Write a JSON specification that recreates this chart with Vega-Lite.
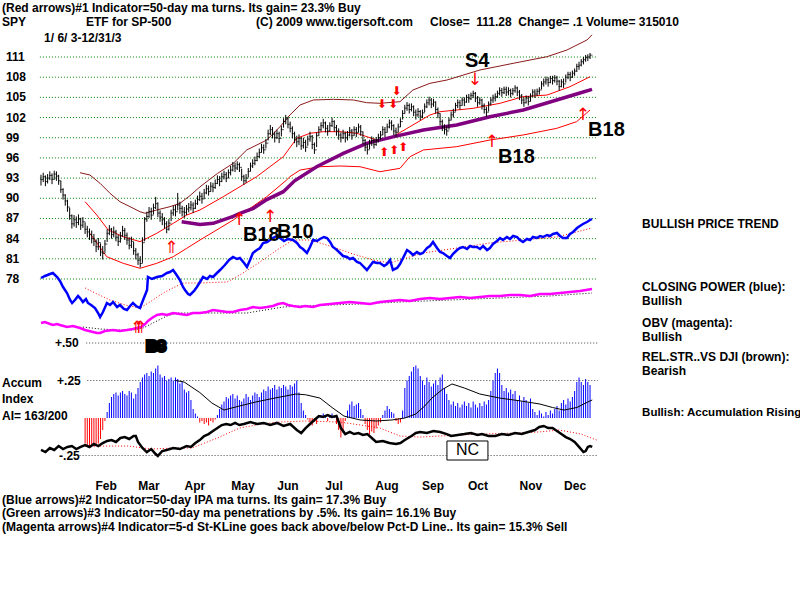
{
"$schema":"https://vega.github.io/schema/vega-lite/v6.json",
"width":800,"height":600,"padding":0,"autosize":{"type":"none"},
"background":"white",
"config":{"view":{"stroke":null}},
"datasets":{
"px":[
{"t":0,"h":93.5,"l":91.9,"c":92.8},{"t":1,"h":93.8,"l":92.4,"c":93.2},{"t":2,"h":93.4,"l":91.8,"c":92.5},{"t":3,"h":93.6,"l":92.2,"c":93.0},{"t":4,"h":94.0,"l":92.7,"c":93.4},{"t":5,"h":93.7,"l":92.1,"c":92.8},{"t":6,"h":94.1,"l":92.8,"c":93.6},{"t":7,"h":94.0,"l":92.6,"c":93.3},{"t":8,"h":93.5,"l":92.0,"c":92.6},{"t":9,"h":92.6,"l":90.8,"c":91.3},
{"t":10,"h":91.5,"l":89.8,"c":90.5},{"t":11,"h":90.6,"l":88.9,"c":89.6},{"t":12,"h":89.8,"l":88.0,"c":88.7},{"t":13,"h":88.6,"l":86.8,"c":87.4},{"t":14,"h":87.6,"l":85.5,"c":86.2},{"t":15,"h":87.5,"l":85.8,"c":86.8},{"t":16,"h":87.3,"l":85.6,"c":86.4},{"t":17,"h":87.6,"l":86.0,"c":86.9},{"t":18,"h":87.1,"l":85.3,"c":86.0},{"t":19,"h":87.2,"l":85.6,"c":86.5},
{"t":20,"h":86.4,"l":84.7,"c":85.4,"a":-0.17},{"t":21,"h":85.9,"l":84.2,"c":85.0,"a":-0.18},{"t":22,"h":85.5,"l":83.8,"c":84.6,"a":-0.19},{"t":23,"h":85.2,"l":83.3,"c":84.0,"a":-0.18},{"t":24,"h":84.7,"l":82.9,"c":83.6,"a":-0.19},{"t":25,"h":83.9,"l":82.0,"c":82.8,"a":-0.18},{"t":26,"h":84.1,"l":82.3,"c":83.4,"a":-0.17},{"t":27,"h":83.3,"l":81.4,"c":82.0,"a":-0.14},{"t":28,"h":82.9,"l":80.9,"c":81.8,"a":-0.08},{"t":29,"h":83.8,"l":81.9,"c":83.2,"a":-0.02},
{"t":30,"h":85.4,"l":83.5,"c":84.8,"a":0.04},{"t":31,"h":86.0,"l":84.5,"c":85.4,"a":0.10},{"t":32,"h":85.6,"l":84.0,"c":84.6,"a":0.14},{"t":33,"h":85.8,"l":84.2,"c":85.0,"a":0.16},{"t":34,"h":85.3,"l":83.6,"c":84.2,"a":0.17},{"t":35,"h":84.6,"l":82.9,"c":83.6,"a":0.15},{"t":36,"h":85.0,"l":83.4,"c":84.4,"a":0.17},{"t":37,"h":85.9,"l":84.3,"c":85.2,"a":0.18},{"t":38,"h":85.6,"l":83.8,"c":84.5,"a":0.16},{"t":39,"h":84.9,"l":83.1,"c":83.8,"a":0.15},
{"t":40,"h":84.2,"l":82.4,"c":83.0,"a":0.18},{"t":41,"h":84.3,"l":82.6,"c":83.6,"a":0.17},{"t":42,"h":83.5,"l":81.6,"c":82.2,"a":0.13},{"t":43,"h":82.6,"l":80.9,"c":81.6,"a":0.16},{"t":44,"h":81.9,"l":80.1,"c":80.8,"a":0.20},{"t":45,"h":81.4,"l":79.7,"c":80.3,"a":0.24},{"t":46,"h":84.2,"l":80.4,"c":83.4,"a":0.27},{"t":47,"h":87.2,"l":83.6,"c":86.9,"a":0.29},{"t":48,"h":88.0,"l":86.5,"c":87.3,"a":0.30},{"t":49,"h":88.7,"l":87.1,"c":88.0,"a":0.28},
{"t":50,"h":88.6,"l":86.8,"c":87.5,"a":0.31},{"t":51,"h":89.2,"l":87.6,"c":88.6,"a":0.30},{"t":52,"h":90.2,"l":88.4,"c":89.2,"a":0.33},{"t":53,"h":89.4,"l":87.2,"c":87.8,"a":0.35},{"t":54,"h":88.2,"l":86.5,"c":87.2,"a":0.29},{"t":55,"h":87.8,"l":86.0,"c":86.8,"a":0.27},{"t":56,"h":87.2,"l":85.5,"c":86.2,"a":0.28},{"t":57,"h":86.6,"l":84.8,"c":85.4,"a":0.25},{"t":58,"h":86.9,"l":85.2,"c":86.3,"a":0.26},{"t":59,"h":88.3,"l":86.6,"c":87.8,"a":0.27},
{"t":60,"h":88.9,"l":87.4,"c":88.3,"a":0.25},{"t":61,"h":89.0,"l":87.3,"c":88.0,"a":0.27},{"t":62,"h":90.8,"l":88.2,"c":89.0,"a":0.26},{"t":63,"h":89.5,"l":87.7,"c":88.5,"a":0.23},{"t":64,"h":88.9,"l":87.3,"c":88.0,"a":0.24},{"t":65,"h":88.7,"l":87.1,"c":87.9,"a":0.19},{"t":66,"h":89.0,"l":87.5,"c":88.4,"a":0.17},{"t":67,"h":89.3,"l":87.9,"c":88.6,"a":0.18},{"t":68,"h":89.6,"l":88.2,"c":89.0,"a":0.12},{"t":69,"h":89.4,"l":87.8,"c":88.5,"a":0.06},
{"t":70,"h":89.8,"l":88.4,"c":89.2,"a":0.03},{"t":71,"h":90.4,"l":89.0,"c":89.8,"a":0.01},{"t":72,"h":91.0,"l":89.6,"c":90.3,"a":-0.03},{"t":73,"h":90.8,"l":89.2,"c":89.9,"a":-0.02},{"t":74,"h":91.4,"l":89.9,"c":90.8,"a":-0.04},{"t":75,"h":92.0,"l":90.6,"c":91.4,"a":-0.03},{"t":76,"h":91.9,"l":90.4,"c":91.0,"a":-0.05},{"t":77,"h":92.4,"l":91.0,"c":91.8,"a":-0.02},{"t":78,"h":92.3,"l":90.9,"c":91.6,"a":-0.03},{"t":79,"h":92.8,"l":91.4,"c":92.2,"a":-0.01},
{"t":80,"h":93.4,"l":92.1,"c":92.8,"a":0.02},{"t":81,"h":93.3,"l":91.8,"c":92.5,"a":0.06},{"t":82,"h":93.8,"l":92.4,"c":93.2,"a":0.09},{"t":83,"h":94.1,"l":92.8,"c":93.5,"a":0.11},{"t":84,"h":93.9,"l":92.4,"c":93.0,"a":0.14},{"t":85,"h":94.3,"l":93.0,"c":93.8,"a":0.13},{"t":86,"h":94.8,"l":93.4,"c":94.2,"a":0.15},{"t":87,"h":95.4,"l":94.0,"c":94.8,"a":0.16},{"t":88,"h":95.3,"l":93.9,"c":94.5,"a":0.13},{"t":89,"h":95.5,"l":94.2,"c":95.0,"a":0.15},
{"t":90,"h":95.3,"l":93.9,"c":94.6,"a":0.12},{"t":91,"h":94.4,"l":92.6,"c":93.2,"a":0.11},{"t":92,"h":93.5,"l":92.0,"c":92.6,"a":0.13},{"t":93,"h":93.6,"l":92.3,"c":93.0,"a":0.16},{"t":94,"h":94.5,"l":93.1,"c":94.0,"a":0.14},{"t":95,"h":95.3,"l":94.0,"c":94.8,"a":0.12},{"t":96,"h":95.8,"l":94.5,"c":95.2,"a":0.15},{"t":97,"h":96.2,"l":94.9,"c":95.6,"a":0.17},{"t":98,"h":96.8,"l":95.5,"c":96.2,"a":0.16},{"t":99,"h":97.4,"l":96.0,"c":96.8,"a":0.14},
{"t":100,"h":98.1,"l":96.8,"c":97.5,"a":0.17},{"t":101,"h":98.0,"l":96.6,"c":97.2,"a":0.19},{"t":102,"h":98.8,"l":97.4,"c":98.2,"a":0.18},{"t":103,"h":100.2,"l":98.6,"c":99.6,"a":0.21},{"t":104,"h":100.9,"l":99.4,"c":100.2,"a":0.19},{"t":105,"h":100.6,"l":98.9,"c":99.5,"a":0.20},{"t":106,"h":99.9,"l":98.3,"c":99.0,"a":0.22},{"t":107,"h":100.2,"l":98.8,"c":99.6,"a":0.19},{"t":108,"h":99.9,"l":98.2,"c":98.9,"a":0.21},{"t":109,"h":100.8,"l":99.2,"c":100.2,"a":0.20},
{"t":110,"h":101.9,"l":100.5,"c":101.4,"a":0.22},{"t":111,"h":102.4,"l":101.0,"c":101.8,"a":0.21},{"t":112,"h":102.1,"l":100.4,"c":101.0,"a":0.19},{"t":113,"h":101.4,"l":99.8,"c":100.4,"a":0.22},{"t":114,"h":100.7,"l":98.9,"c":99.6,"a":0.21},{"t":115,"h":99.9,"l":98.2,"c":98.8,"a":0.23},{"t":116,"h":99.3,"l":97.6,"c":98.4,"a":0.25},{"t":117,"h":99.5,"l":97.9,"c":98.9,"a":0.17},{"t":118,"h":99.1,"l":97.2,"c":97.8,"a":0.10},{"t":119,"h":99.0,"l":97.4,"c":98.3,"a":0.05},
{"t":120,"h":98.7,"l":96.9,"c":97.6,"a":0.02},{"t":121,"h":99.3,"l":97.8,"c":98.8,"a":-0.01},{"t":122,"h":99.9,"l":98.4,"c":99.2,"a":-0.03},{"t":123,"h":99.4,"l":97.3,"c":98.0,"a":-0.05},{"t":124,"h":98.3,"l":96.6,"c":97.2,"a":-0.02},{"t":125,"h":99.8,"l":97.6,"c":99.3,"a":-0.04},{"t":126,"h":100.7,"l":99.3,"c":100.2,"a":0.01},{"t":127,"h":101.3,"l":99.9,"c":100.8,"a":0.02},{"t":128,"h":101.8,"l":100.4,"c":101.2,"a":0.03},{"t":129,"h":101.4,"l":99.8,"c":100.4,"a":0.01},
{"t":130,"h":100.9,"l":99.3,"c":100.0,"a":-0.02},{"t":131,"h":101.3,"l":99.9,"c":100.8,"a":0.02},{"t":132,"h":102.0,"l":100.6,"c":101.4,"a":0.03},{"t":133,"h":101.6,"l":99.9,"c":100.5,"a":0.01},{"t":134,"h":100.9,"l":99.3,"c":100.0,"a":-0.04},{"t":135,"h":100.4,"l":98.7,"c":99.4,"a":-0.08},{"t":136,"h":99.8,"l":98.3,"c":99.0,"a":-0.13},{"t":137,"h":100.2,"l":98.8,"c":99.6,"a":-0.10},{"t":138,"h":99.9,"l":98.3,"c":99.0,"a":-0.02},{"t":139,"h":100.0,"l":98.6,"c":99.4,"a":0.05},
{"t":140,"h":100.6,"l":99.2,"c":100.0,"a":0.09},{"t":141,"h":100.3,"l":98.7,"c":99.3,"a":0.11},{"t":142,"h":100.7,"l":99.3,"c":100.2,"a":0.08},{"t":143,"h":100.6,"l":99.1,"c":99.8,"a":0.09},{"t":144,"h":101.1,"l":99.8,"c":100.6,"a":0.10},{"t":145,"h":100.9,"l":99.3,"c":99.9,"a":0.06},{"t":146,"h":99.9,"l":98.0,"c":98.6,"a":0.02},{"t":147,"h":98.8,"l":97.0,"c":97.6,"a":-0.04},{"t":148,"h":98.1,"l":96.5,"c":97.2,"a":-0.08},{"t":149,"h":98.7,"l":97.3,"c":98.2,"a":-0.11},
{"t":150,"h":99.2,"l":97.8,"c":98.6,"a":-0.09},{"t":151,"h":98.9,"l":97.4,"c":98.0,"a":-0.10},{"t":152,"h":99.1,"l":97.8,"c":98.6,"a":-0.07},{"t":153,"h":99.6,"l":98.3,"c":99.0,"a":-0.05},{"t":154,"h":100.0,"l":98.7,"c":99.4,"a":-0.03},{"t":155,"h":100.7,"l":99.4,"c":100.2,"a":0.02},{"t":156,"h":100.6,"l":99.1,"c":99.8,"a":0.05},{"t":157,"h":101.1,"l":99.8,"c":100.6,"a":0.08},{"t":158,"h":101.7,"l":100.4,"c":101.2,"a":0.06},{"t":159,"h":101.6,"l":100.1,"c":100.8,"a":0.04},
{"t":160,"h":101.0,"l":99.4,"c":100.0,"a":0.03},{"t":161,"h":100.5,"l":99.1,"c":99.8,"a":-0.02},{"t":162,"h":101.1,"l":99.8,"c":100.6,"a":-0.04},{"t":163,"h":101.9,"l":100.6,"c":101.4,"a":-0.03},{"t":164,"h":103.1,"l":101.7,"c":102.6,"a":0.05},{"t":165,"h":103.9,"l":102.6,"c":103.4,"a":0.20},{"t":166,"h":104.3,"l":103.0,"c":103.8,"a":0.25},{"t":167,"h":104.1,"l":102.6,"c":103.2,"a":0.28},{"t":168,"h":104.1,"l":102.9,"c":103.6,"a":0.31},{"t":169,"h":103.8,"l":102.2,"c":102.8,"a":0.34},
{"t":170,"h":103.2,"l":101.7,"c":102.4,"a":0.35},{"t":171,"h":103.4,"l":102.1,"c":102.9,"a":0.33},{"t":172,"h":103.1,"l":101.6,"c":102.2,"a":0.28},{"t":173,"h":103.2,"l":101.9,"c":102.7,"a":0.25},{"t":174,"h":104.1,"l":102.8,"c":103.6,"a":0.22},{"t":175,"h":104.7,"l":103.4,"c":104.2,"a":0.27},{"t":176,"h":105.1,"l":103.8,"c":104.6,"a":0.24},{"t":177,"h":104.9,"l":103.4,"c":104.0,"a":0.21},{"t":178,"h":104.8,"l":103.6,"c":104.3,"a":0.23},{"t":179,"h":104.4,"l":102.6,"c":103.2,"a":0.25},
{"t":180,"h":103.5,"l":101.9,"c":102.6,"a":0.22},{"t":181,"h":102.6,"l":100.8,"c":101.4,"a":0.27},{"t":182,"h":101.7,"l":100.0,"c":100.6,"a":0.29},{"t":183,"h":101.0,"l":99.5,"c":100.2,"a":0.20},{"t":184,"h":100.8,"l":99.3,"c":100.0,"a":0.16},{"t":185,"h":102.0,"l":100.2,"c":101.6,"a":0.12},{"t":186,"h":102.9,"l":101.6,"c":102.4,"a":0.09},{"t":187,"h":103.3,"l":102.0,"c":102.8,"a":0.11},{"t":188,"h":104.2,"l":102.9,"c":103.8,"a":0.08},{"t":189,"h":104.7,"l":103.4,"c":104.2,"a":0.10},
{"t":190,"h":104.6,"l":103.2,"c":103.8,"a":0.07},{"t":191,"h":105.0,"l":103.8,"c":104.6,"a":0.09},{"t":192,"h":105.0,"l":103.7,"c":104.3,"a":0.11},{"t":193,"h":105.4,"l":104.2,"c":105.0,"a":0.08},{"t":194,"h":105.5,"l":104.2,"c":104.8,"a":0.10},{"t":195,"h":105.7,"l":104.6,"c":105.3,"a":0.07},{"t":196,"h":106.0,"l":104.9,"c":105.6,"a":0.11},{"t":197,"h":105.8,"l":104.3,"c":104.9,"a":0.09},{"t":198,"h":105.2,"l":103.6,"c":104.2,"a":0.07},{"t":199,"h":105.0,"l":103.9,"c":104.6,"a":0.10},
{"t":200,"h":104.8,"l":103.2,"c":103.8,"a":0.08},{"t":201,"h":104.1,"l":102.6,"c":103.2,"a":0.11},{"t":202,"h":103.6,"l":102.1,"c":102.8,"a":0.09},{"t":203,"h":104.4,"l":102.9,"c":104.0,"a":0.12},{"t":204,"h":105.0,"l":103.8,"c":104.6,"a":0.18},{"t":205,"h":105.4,"l":104.2,"c":104.9,"a":0.25},{"t":206,"h":105.6,"l":104.4,"c":105.1,"a":0.30},{"t":207,"h":106.0,"l":104.9,"c":105.6,"a":0.33},{"t":208,"h":106.5,"l":105.3,"c":106.0,"a":0.30},{"t":209,"h":106.4,"l":105.1,"c":105.7,"a":0.22},
{"t":210,"h":106.6,"l":105.5,"c":106.2,"a":0.18},{"t":211,"h":106.6,"l":105.2,"c":105.8,"a":0.20},{"t":212,"h":106.5,"l":105.3,"c":106.0,"a":0.17},{"t":213,"h":106.3,"l":105.0,"c":105.6,"a":0.19},{"t":214,"h":106.4,"l":105.3,"c":106.0,"a":0.16},{"t":215,"h":106.8,"l":105.7,"c":106.4,"a":0.18},{"t":216,"h":106.6,"l":105.2,"c":105.8,"a":0.12},{"t":217,"h":106.1,"l":104.6,"c":105.2,"a":0.15},{"t":218,"h":105.5,"l":104.0,"c":104.6,"a":0.11},{"t":219,"h":105.0,"l":103.6,"c":104.2,"a":0.14},
{"t":220,"h":105.3,"l":104.1,"c":104.9,"a":0.12},{"t":221,"h":105.2,"l":103.8,"c":104.4,"a":0.10},{"t":222,"h":105.6,"l":104.4,"c":105.2,"a":0.13},{"t":223,"h":106.2,"l":105.1,"c":105.8,"a":0.06},{"t":224,"h":106.2,"l":104.9,"c":105.5,"a":0.04},{"t":225,"h":106.3,"l":105.2,"c":105.9,"a":0.02},{"t":226,"h":106.5,"l":105.4,"c":106.1,"a":0.05},{"t":227,"h":107.4,"l":106.2,"c":107.0,"a":0.03},{"t":228,"h":107.8,"l":106.6,"c":107.3,"a":0.01},{"t":229,"h":108.1,"l":106.9,"c":107.6,"a":0.04},
{"t":230,"h":108.0,"l":106.6,"c":107.2,"a":0.02},{"t":231,"h":108.2,"l":107.1,"c":107.8,"a":0.05},{"t":232,"h":108.2,"l":106.9,"c":107.5,"a":0.03},{"t":233,"h":108.3,"l":107.2,"c":107.9,"a":0.06},{"t":234,"h":108.2,"l":106.8,"c":107.4,"a":0.08},{"t":235,"h":107.6,"l":106.0,"c":106.6,"a":0.05},{"t":236,"h":107.7,"l":106.5,"c":107.3,"a":0.10},{"t":237,"h":107.8,"l":106.4,"c":107.0,"a":0.12},{"t":238,"h":108.4,"l":107.2,"c":108.0,"a":0.09},{"t":239,"h":108.8,"l":107.7,"c":108.4,"a":0.13},
{"t":240,"h":108.8,"l":107.4,"c":108.0,"a":0.11},{"t":241,"h":109.0,"l":107.9,"c":108.6,"a":0.14},{"t":242,"h":109.3,"l":108.2,"c":108.9,"a":0.18},{"t":243,"h":110.0,"l":108.8,"c":109.6,"a":0.24},{"t":244,"h":110.3,"l":109.1,"c":109.8,"a":0.27},{"t":245,"h":110.7,"l":109.6,"c":110.3,"a":0.24},{"t":246,"h":111.0,"l":109.9,"c":110.6,"a":0.22},{"t":247,"h":111.3,"l":110.3,"c":110.9,"a":0.26},{"t":248,"h":111.4,"l":110.4,"c":111.0,"a":0.24},{"t":249,"h":111.6,"l":110.7,"c":111.28,"a":0.22}
],
"grid":[{"p":78,"t":-0.5},{"p":78,"t":252.6},{"p":81,"t":-0.5},{"p":81,"t":252.6},{"p":84,"t":-0.5},{"p":84,"t":252.6},{"p":87,"t":-0.5},{"p":87,"t":252.6},{"p":90,"t":-0.5},{"p":90,"t":252.6},{"p":93,"t":-0.5},{"p":93,"t":252.6},{"p":96,"t":-0.5},{"p":96,"t":252.6},{"p":99,"t":-0.5},{"p":99,"t":252.6},{"p":102,"t":-0.5},{"p":102,"t":252.6},{"p":105,"t":-0.5},{"p":105,"t":252.6},{"p":108,"t":-0.5},{"p":108,"t":252.6},{"p":111,"t":-0.5},{"p":111,"t":252.6}],
"aigrid":[{"a":0.5,"t":20.5},{"a":0.5,"t":252.6},{"a":0.25,"t":21},{"a":0.25,"t":252.6},{"a":-0.25,"t":17.5},{"a":-0.25,"t":252.6}],
"up":[{"t":17.7,"v":93.8},{"t":22.2,"v":93.46},{"t":26.8,"v":92.22},{"t":31.3,"v":90.74},{"t":35.8,"v":89.49},{"t":40.4,"v":88.75},{"t":44.9,"v":88.0},{"t":47.2,"v":87.77},{"t":52.5,"v":88.26},{"t":58.5,"v":88.75},{"t":63,"v":89.25},{"t":67.6,"v":90.4},{"t":72.1,"v":91.7},{"t":80.1,"v":93.71},{"t":87.2,"v":95.2},{"t":93.3,"v":97.18},{"t":102.4,"v":98.66},{"t":108.4,"v":100.64},{"t":112.9,"v":102.38},{"t":117.5,"v":103.87},{"t":123.5,"v":104.61},{"t":132.6,"v":104.71},{"t":141.7,"v":104.61},{"t":147.7,"v":104.21},{"t":153.7,"v":104.12},{"t":162.8,"v":104.36},{"t":168.7,"v":106.1},{"t":176.4,"v":107.09},{"t":184.1,"v":107.58},{"t":199.1,"v":109.07},{"t":214.1,"v":110.06},{"t":229.5,"v":111.05},{"t":238.5,"v":112.04},{"t":247.6,"v":113.53},{"t":249.9,"v":114.3}],
"mid":[{"t":20,"v":89.49},{"t":25.3,"v":87.51},{"t":30.5,"v":85.28},{"t":37.3,"v":84.29},{"t":44.9,"v":83.55},{"t":52.5,"v":84.79},{"t":60,"v":86.28},{"t":66.1,"v":87.51},{"t":72.1,"v":88.26},{"t":82.7,"v":90.24},{"t":97.8,"v":93.21},{"t":109.9,"v":96.18},{"t":116,"v":98.92},{"t":122,"v":99.66},{"t":128,"v":99.9},{"t":135.6,"v":99.9},{"t":143.2,"v":99.66},{"t":152.2,"v":98.66},{"t":158.3,"v":98.9},{"t":167.3,"v":100.64},{"t":176.4,"v":102.38},{"t":181,"v":102.87},{"t":195.9,"v":103.37},{"t":208.2,"v":104.12},{"t":218.6,"v":105.1},{"t":229.5,"v":105.35},{"t":239.9,"v":106.59},{"t":249,"v":108.07}],
"lo":[{"t":22.2,"v":84.79},{"t":29.8,"v":81.32},{"t":37.3,"v":80.33},{"t":44.9,"v":79.59},{"t":52.5,"v":80.33},{"t":60,"v":81.32},{"t":66.1,"v":82.56},{"t":72.1,"v":83.8},{"t":87.2,"v":86.77},{"t":102.4,"v":90.24},{"t":111.4,"v":92.72},{"t":112.9,"v":93.21},{"t":117.5,"v":94.2},{"t":126.5,"v":94.69},{"t":135.6,"v":94.8},{"t":144.7,"v":94.69},{"t":153.7,"v":93.95},{"t":162.8,"v":94.45},{"t":167.3,"v":96.18},{"t":173.4,"v":97.18},{"t":188.5,"v":97.67},{"t":203.6,"v":98.66},{"t":218.7,"v":99.41},{"t":233.9,"v":100.4},{"t":242.9,"v":101.39},{"t":249,"v":103.12}],
"ma":[{"t":63.8,"v":86.52},{"t":72.1,"v":86.1},{"t":78.1,"v":86.28},{"t":87.2,"v":87.3},{"t":90.2,"v":87.77},{"t":96.3,"v":88.51},{"t":102.4,"v":89.8},{"t":109.9,"v":90.98},{"t":115,"v":92.6},{"t":125,"v":94.69},{"t":137.1,"v":96.68},{"t":147.7,"v":98.17},{"t":160.5,"v":99.2},{"t":173.4,"v":100.15},{"t":188.5,"v":100.89},{"t":203.6,"v":102.13},{"t":218.7,"v":103.12},{"t":233.9,"v":104.61},{"t":244.4,"v":105.65},{"t":249.9,"v":106.2}],
"cp":[{"t":0,"v":5.2},{"t":1.8,"v":5.4},{"t":4.1,"v":5.6},{"t":5.4,"v":5.7},{"t":7.3,"v":5.3},{"t":8.6,"v":4.9},{"t":10,"v":4.3},{"t":11.8,"v":3.7},{"t":13.2,"v":3.0},{"t":14.1,"v":2.7},{"t":15.4,"v":3.0},{"t":16.8,"v":3.4},{"t":17.7,"v":3.2},{"t":19,"v":2.8},{"t":20.4,"v":3.1},{"t":21.3,"v":2.7},{"t":22.7,"v":2.5},{"t":24.5,"v":2.2},{"t":25.9,"v":1.7},{"t":26.8,"v":1.3},{"t":28.1,"v":1.8},{"t":29.9,"v":2.7},{"t":31.3,"v":2.5},{"t":32.7,"v":2.8},{"t":34.5,"v":2.3},{"t":35.8,"v":2.5},{"t":37.6,"v":2.1},{"t":39,"v":2.0},{"t":40.4,"v":2.4},{"t":41.7,"v":2.7},{"t":43.1,"v":2.4},{"t":44.9,"v":2.2},{"t":46.3,"v":3.0},{"t":48.1,"v":4.0},{"t":48.5,"v":5.3},{"t":50.3,"v":5.1},{"t":52.6,"v":5.3},{"t":54.9,"v":5.4},{"t":57.1,"v":5.7},{"t":58.5,"v":5.8},{"t":59.9,"v":6.0},{"t":61.2,"v":5.6},{"t":63,"v":5.0},{"t":64.4,"v":4.3},{"t":65.3,"v":4.0},{"t":66.7,"v":3.6},{"t":67.6,"v":3.5},{"t":69.4,"v":3.9},{"t":70.7,"v":4.3},{"t":72.1,"v":4.8},{"t":73.5,"v":5.3},{"t":75.3,"v":5.1},{"t":76.6,"v":5.4},{"t":78,"v":5.3},{"t":79.8,"v":5.7},{"t":81.2,"v":6.0},{"t":83.4,"v":6.5},{"t":85.3,"v":7.0},{"t":87.1,"v":7.3},{"t":88.9,"v":7.1},{"t":90.2,"v":7.2},{"t":92.1,"v":6.7},{"t":93.4,"v":6.3},{"t":94.8,"v":7.0},{"t":96.1,"v":7.7},{"t":97.9,"v":8.0},{"t":99.3,"v":8.2},{"t":100.7,"v":8.7},{"t":102.5,"v":8.8},{"t":103.9,"v":9.0},{"t":105.2,"v":9.2},{"t":107,"v":9.4},{"t":108.4,"v":9.2},{"t":110.2,"v":8.9},{"t":112,"v":9.1},{"t":114.3,"v":9.0},{"t":116.1,"v":8.7},{"t":117.5,"v":8.3},{"t":118.8,"v":8.1},{"t":120.6,"v":7.7},{"t":122,"v":8.3},{"t":123.4,"v":9.0},{"t":125.2,"v":8.9},{"t":126.5,"v":9.1},{"t":128.3,"v":9.3},{"t":129.7,"v":9.2},{"t":131.1,"v":8.8},{"t":132.4,"v":8.3},{"t":134.2,"v":8.0},{"t":135.6,"v":7.7},{"t":137,"v":7.4},{"t":138.8,"v":7.3},{"t":140.1,"v":7.1},{"t":141.5,"v":7.2},{"t":143.3,"v":6.8},{"t":144.7,"v":6.7},{"t":146,"v":6.4},{"t":147.8,"v":6.0},{"t":149.2,"v":6.4},{"t":150.6,"v":6.8},{"t":152.4,"v":6.7},{"t":153.7,"v":6.7},{"t":155.6,"v":6.4},{"t":156.9,"v":6.6},{"t":158.3,"v":7.0},{"t":159.6,"v":6.0},{"t":161.5,"v":6.2},{"t":162.8,"v":6.6},{"t":164.2,"v":7.2},{"t":166,"v":8.0},{"t":167.3,"v":7.8},{"t":168.7,"v":7.5},{"t":170.5,"v":7.8},{"t":171.9,"v":7.6},{"t":173.2,"v":7.7},{"t":175.1,"v":8.2},{"t":176.4,"v":8.4},{"t":177.8,"v":8.8},{"t":179.6,"v":8.2},{"t":181,"v":7.8},{"t":182.3,"v":7.7},{"t":184.1,"v":7.4},{"t":185.5,"v":7.2},{"t":186.8,"v":7.6},{"t":188.7,"v":8.0},{"t":190,"v":8.2},{"t":191.4,"v":8.3},{"t":193.2,"v":8.1},{"t":194.6,"v":8.4},{"t":195.9,"v":8.3},{"t":197.7,"v":8.3},{"t":199.1,"v":8.1},{"t":200.5,"v":8.4},{"t":202.3,"v":8.0},{"t":203.6,"v":8.2},{"t":205,"v":8.6},{"t":206.8,"v":8.9},{"t":208.2,"v":9.2},{"t":209.5,"v":9.0},{"t":211.3,"v":9.3},{"t":212.7,"v":9.1},{"t":214.1,"v":9.4},{"t":215.9,"v":9.3},{"t":217.2,"v":9.0},{"t":218.6,"v":8.8},{"t":220.4,"v":9.1},{"t":221.8,"v":9.0},{"t":223.1,"v":9.3},{"t":224.9,"v":9.2},{"t":226.3,"v":9.4},{"t":227.7,"v":9.3},{"t":229.5,"v":9.5},{"t":230.8,"v":9.4},{"t":232.2,"v":9.6},{"t":234,"v":9.7},{"t":235.4,"v":9.4},{"t":236.7,"v":9.2},{"t":238.5,"v":9.2},{"t":239.9,"v":9.6},{"t":241.3,"v":9.8},{"t":243.1,"v":10.2},{"t":244.4,"v":10.4},{"t":245.8,"v":10.6},{"t":247.6,"v":10.8},{"t":249,"v":11.0},{"t":249.9,"v":11.1}],
"cpm":[{"t":20,"v":4.2},{"t":24.5,"v":3.7},{"t":31.3,"v":3.0},{"t":38.1,"v":2.5},{"t":44.9,"v":2.2},{"t":49.4,"v":2.8},{"t":56.2,"v":3.8},{"t":64.4,"v":4.7},{"t":72.1,"v":4.7},{"t":84.4,"v":4.8},{"t":90.2,"v":5.5},{"t":99.3,"v":6.8},{"t":107,"v":8.0},{"t":114.3,"v":9.0},{"t":122,"v":9.0},{"t":132.4,"v":8.3},{"t":141.5,"v":7.6},{"t":150.6,"v":7.0},{"t":158.3,"v":6.7},{"t":173.2,"v":7.7},{"t":188.7,"v":8.2},{"t":203.6,"v":8.7},{"t":218.6,"v":9.0},{"t":234,"v":9.3},{"t":249.9,"v":10.2}],
"obv":[{"t":0,"v":1.7},{"t":1.8,"v":1.8},{"t":4.1,"v":1.6},{"t":5.4,"v":1.5},{"t":7.3,"v":1.6},{"t":8.6,"v":1.5},{"t":11.8,"v":1.3},{"t":14.5,"v":1.4},{"t":17.7,"v":1.2},{"t":20,"v":1.0},{"t":23.6,"v":0.8},{"t":25.4,"v":0.7},{"t":26.8,"v":0.7},{"t":29,"v":0.9},{"t":32.7,"v":1.0},{"t":35.8,"v":0.9},{"t":39,"v":1.0},{"t":41.7,"v":1.1},{"t":43.5,"v":1.2},{"t":45.4,"v":1.3},{"t":47.2,"v":1.6},{"t":48.5,"v":1.9},{"t":50.3,"v":2.2},{"t":52.6,"v":2.5},{"t":54.9,"v":2.6},{"t":57.1,"v":2.5},{"t":59.9,"v":2.7},{"t":63,"v":2.6},{"t":66.2,"v":2.5},{"t":68.9,"v":2.7},{"t":72.1,"v":2.7},{"t":75.3,"v":2.8},{"t":78,"v":3.0},{"t":81.2,"v":2.9},{"t":84.4,"v":2.8},{"t":87.1,"v":2.8},{"t":90.2,"v":3.0},{"t":93.4,"v":3.1},{"t":96.1,"v":3.3},{"t":99.3,"v":3.2},{"t":102.5,"v":3.3},{"t":105.2,"v":3.4},{"t":107.5,"v":3.6},{"t":109.8,"v":3.7},{"t":112,"v":3.5},{"t":114.3,"v":3.4},{"t":117.5,"v":3.3},{"t":119.7,"v":3.4},{"t":123.4,"v":3.3},{"t":126.5,"v":3.5},{"t":131.1,"v":3.6},{"t":135.6,"v":3.7},{"t":140.1,"v":3.8},{"t":144.7,"v":3.7},{"t":149.2,"v":3.6},{"t":153.7,"v":3.8},{"t":158.3,"v":3.9},{"t":162.8,"v":4.0},{"t":167.3,"v":3.9},{"t":171.9,"v":4.1},{"t":176.4,"v":4.2},{"t":181,"v":4.1},{"t":185.5,"v":4.2},{"t":190,"v":4.3},{"t":194.6,"v":4.2},{"t":199.1,"v":4.3},{"t":203.6,"v":4.4},{"t":208.2,"v":4.4},{"t":212.7,"v":4.5},{"t":217.2,"v":4.5},{"t":221.8,"v":4.4},{"t":226.3,"v":4.6},{"t":230.8,"v":4.6},{"t":235.4,"v":4.7},{"t":239.9,"v":4.8},{"t":244.4,"v":4.9},{"t":249.9,"v":5.1}],
"obvm":[{"t":19,"v":1.3},{"t":26.8,"v":1.1},{"t":35.8,"v":1.0},{"t":41.7,"v":1.0},{"t":46.3,"v":1.2},{"t":51.7,"v":1.8},{"t":57.1,"v":2.4},{"t":61.7,"v":2.7},{"t":72.1,"v":2.7},{"t":85.7,"v":2.7},{"t":93.4,"v":2.7},{"t":101.6,"v":3.0},{"t":109.8,"v":3.3},{"t":117.5,"v":3.4},{"t":131.1,"v":3.5},{"t":144.7,"v":3.6},{"t":162.8,"v":3.8},{"t":185.5,"v":4.0},{"t":208.2,"v":4.2},{"t":230.8,"v":4.4},{"t":249.9,"v":4.7}],
"rs":[{"t":0,"v":-0.213},{"t":2,"v":-0.227},{"t":4,"v":-0.2},{"t":6,"v":-0.213},{"t":8,"v":-0.187},{"t":10,"v":-0.207},{"t":12,"v":-0.193},{"t":14,"v":-0.187},{"t":16,"v":-0.207},{"t":18,"v":-0.193},{"t":20,"v":-0.18},{"t":22,"v":-0.193},{"t":24,"v":-0.173},{"t":26,"v":-0.187},{"t":28,"v":-0.167},{"t":30,"v":-0.153},{"t":32,"v":-0.147},{"t":34,"v":-0.16},{"t":36,"v":-0.133},{"t":38,"v":-0.127},{"t":40,"v":-0.14},{"t":42,"v":-0.12},{"t":43,"v":-0.12},{"t":44,"v":-0.16},{"t":46,"v":-0.2},{"t":48,"v":-0.227},{"t":50,"v":-0.207},{"t":52,"v":-0.24},{"t":53,"v":-0.253},{"t":55,"v":-0.22},{"t":57,"v":-0.213},{"t":60,"v":-0.2},{"t":63,"v":-0.207},{"t":66,"v":-0.187},{"t":68,"v":-0.193},{"t":70,"v":-0.167},{"t":72,"v":-0.147},{"t":74,"v":-0.12},{"t":76,"v":-0.107},{"t":78,"v":-0.087},{"t":80,"v":-0.067},{"t":82,"v":-0.047},{"t":84,"v":-0.04},{"t":86,"v":-0.047},{"t":88,"v":-0.033},{"t":90,"v":-0.047},{"t":92,"v":-0.04},{"t":95,"v":-0.027},{"t":98,"v":-0.04},{"t":101,"v":-0.033},{"t":104,"v":-0.047},{"t":107,"v":-0.033},{"t":110,"v":-0.053},{"t":113,"v":-0.04},{"t":116,"v":-0.08},{"t":118,"v":-0.1},{"t":120,"v":-0.067},{"t":122,"v":-0.04},{"t":124,"v":-0.013},{"t":126,"v":0.013},{"t":128,"v":0.007},{"t":130,"v":0.02},{"t":132,"v":0.007},{"t":134,"v":0.013},{"t":136,"v":-0.067},{"t":138,"v":-0.107},{"t":140,"v":-0.093},{"t":142,"v":-0.107},{"t":144,"v":-0.1},{"t":146,"v":-0.113},{"t":148,"v":-0.107},{"t":150,"v":-0.133},{"t":152,"v":-0.16},{"t":155,"v":-0.153},{"t":158,"v":-0.167},{"t":161,"v":-0.173},{"t":163,"v":-0.167},{"t":165,"v":-0.147},{"t":168,"v":-0.12},{"t":170,"v":-0.1},{"t":172,"v":-0.093},{"t":175,"v":-0.1},{"t":178,"v":-0.087},{"t":181,"v":-0.093},{"t":184,"v":-0.107},{"t":186,"v":-0.12},{"t":189,"v":-0.113},{"t":192,"v":-0.107},{"t":195,"v":-0.1},{"t":198,"v":-0.113},{"t":200,"v":-0.107},{"t":203,"v":-0.12},{"t":206,"v":-0.12},{"t":209,"v":-0.107},{"t":212,"v":-0.113},{"t":215,"v":-0.1},{"t":218,"v":-0.107},{"t":221,"v":-0.093},{"t":224,"v":-0.08},{"t":226,"v":-0.06},{"t":228,"v":-0.053},{"t":230,"v":-0.067},{"t":232,"v":-0.067},{"t":234,"v":-0.087},{"t":236,"v":-0.107},{"t":238,"v":-0.127},{"t":240,"v":-0.14},{"t":242,"v":-0.16},{"t":244,"v":-0.193},{"t":246,"v":-0.227},{"t":247,"v":-0.22},{"t":248,"v":-0.193},{"t":249,"v":-0.187},{"t":250,"v":-0.193}],
"rsm":[{"t":20,"v":-0.187},{"t":40,"v":-0.187},{"t":50,"v":-0.207},{"t":60,"v":-0.2},{"t":68.5,"v":-0.2},{"t":80,"v":-0.133},{"t":90,"v":-0.067},{"t":100,"v":-0.04},{"t":108,"v":-0.027},{"t":120,"v":-0.02},{"t":135.6,"v":-0.027},{"t":145,"v":-0.047},{"t":153.7,"v":-0.067},{"t":162.8,"v":-0.12},{"t":172,"v":-0.127},{"t":181,"v":-0.12},{"t":199,"v":-0.107},{"t":217,"v":-0.1},{"t":226,"v":-0.093},{"t":235,"v":-0.08},{"t":245,"v":-0.107},{"t":252,"v":-0.147}],
"aim":[{"t":61,"v":0.25},{"t":64.9,"v":0.24},{"t":72,"v":0.17},{"t":77.5,"v":0.1},{"t":83,"v":0.053},{"t":90,"v":0.08},{"t":97.5,"v":0.107},{"t":105,"v":0.13},{"t":115.6,"v":0.16},{"t":120,"v":0.155},{"t":126.5,"v":0.133},{"t":132,"v":0.07},{"t":137.4,"v":0.013},{"t":144.7,"v":-0.013},{"t":152,"v":-0.02},{"t":159.2,"v":-0.013},{"t":165,"v":0.0},{"t":170,"v":0.027},{"t":174,"v":0.08},{"t":177.3,"v":0.133},{"t":182,"v":0.19},{"t":186.4,"v":0.227},{"t":192,"v":0.2},{"t":199,"v":0.16},{"t":208,"v":0.133},{"t":217,"v":0.115},{"t":226.3,"v":0.093},{"t":232,"v":0.07},{"t":237.2,"v":0.053},{"t":243,"v":0.07},{"t":248,"v":0.107},{"t":250,"v":0.12}],
"arr":[{"t":59.2,"p":82.6,"s":"⇑"},{"t":89.8,"p":86.8,"s":"↑"},{"t":103.9,"p":87.2,"s":"↑"},{"t":196.8,"p":107.6,"s":"↓"},{"t":204.5,"p":98.4,"s":"↑"},{"t":245.8,"p":102.4,"s":"↑"},{"t":43.7,"p":70.7,"s":"⇑"},{"t":45.1,"p":70.7,"s":"⇑"}],
"barr":[{"t":154.6,"p":104.0,"s":"⬇"},{"t":159.6,"p":104.0,"s":"⬇"},{"t":161.2,"p":106.02,"s":"⬇"},{"t":155.6,"p":96.88,"s":"⬆"},{"t":160.1,"p":97.18,"s":"⬆"},{"t":164.2,"p":97.62,"s":"⬆"}],
"big":[{"t":91.6,"p":84.54,"s":"B18"},{"t":107.0,"p":84.99,"s":"B10"},{"t":192.3,"p":110.41,"s":"S4"},{"t":207.3,"p":96.14,"s":"B18"},{"t":248.1,"p":100.15,"s":"B18"}],
"lbl":[
{"t":-17.7,"p":118.29,"s":"(Red arrows)#1 Indicator=50-day ma turns. Its gain= 23.3% Buy"},
{"t":-17.7,"p":116.2,"s":"SPY"},{"t":20.4,"p":116.2,"s":"ETF for SP-500"},{"t":97.5,"p":116.2,"s":"(C) 2009 www.tigersoft.com"},{"t":176.4,"p":116.2,"s":"Close=\u00a0 111.28\u00a0 Change= .1 Volume= 315010"},
{"t":1.4,"p":113.83,"s":"1/ 6/ 3-12/31/3"},
{"t":-15.9,"p":111,"s":"111"},{"t":-15.9,"p":108,"s":"108"},{"t":-15.9,"p":105,"s":"105"},{"t":-15.9,"p":102,"s":"102"},{"t":-15.9,"p":99,"s":"99"},{"t":-15.9,"p":96,"s":"96"},{"t":-15.9,"p":93,"s":"93"},{"t":-15.9,"p":90,"s":"90"},{"t":-15.9,"p":87,"s":"87"},{"t":-15.9,"p":84,"s":"84"},{"t":-15.9,"p":81,"s":"81"},{"t":-15.9,"p":78,"s":"78"},
{"t":6.35,"p":68.49,"s":"+.50"},{"t":7.3,"p":62.84,"s":"+.25"},{"t":8.2,"p":51.69,"s":"-.25"},
{"t":-17.7,"p":62.54,"s":"Accum"},{"t":-17.7,"p":60.16,"s":"Index"},{"t":-17.7,"p":57.63,"s":"AI= 163/200"},
{"t":-17.7,"p":45.15,"s":"(Blue arrows)#2 Indicator=50-day IPA ma turns. Its gain= 17.3% Buy"},
{"t":-17.7,"p":43.21,"s":"(Green arrows)#3 Indicator=50-day ma penetrations by .5%. Its gain= 16.1% Buy"},
{"t":-17.7,"p":41.13,"s":"(Magenta arrows)#4 Indicator=5-d St-KLine goes back above/below Pct-D Line.. Its gain= 15.3% Sell"},
{"t":272.6,"p":86.18,"s":"BULLISH PRICE TREND"},{"t":272.6,"p":76.81,"s":"CLOSING POWER (blue):"},{"t":272.6,"p":74.73,"s":"Bullish"},{"t":272.6,"p":71.46,"s":"OBV (magenta):"},{"t":272.6,"p":69.38,"s":"Bullish"},{"t":272.6,"p":66.4,"s":"REL.STR..VS DJI (brown):"},{"t":272.6,"p":64.32,"s":"Bearish"}],
"lbl2":[{"t":272.6,"p":58.08,"s":"Bullish: Accumulation Rising"}],
"mon":[{"t":29.5,"s":"Feb"},{"t":49.0,"s":"Mar"},{"t":69.8,"s":"Apr"},{"t":91.6,"s":"May"},{"t":112.0,"s":"Jun"},{"t":132.9,"s":"Jul"},{"t":156.9,"s":"Aug"},{"t":177.8,"s":"Sep"},{"t":198.2,"s":"Oct"},{"t":222.2,"s":"Nov"},{"t":242.2,"s":"Dec"}],
"box":[{"t":184.1,"t2":202.7,"p":53.92,"p2":51.09}],
"nc":[{"t":193.4,"p":52.58,"s":"NC"}],
"b8":[{"t":52.2,"p":68.1,"s":"B8"}]
},
"encoding":{"x":{"field":"t","type":"quantitative","scale":{"domain":[-18.594,344.218],"nice":false,"zero":false},"axis":null}},
"layer":[
{"data":{"name":"grid"},"mark":{"type":"line","color":"#008000","strokeWidth":1,"strokeDash":[1,2]},
 "encoding":{"detail":{"field":"p"},
 "y":{"field":"p","type":"quantitative","scale":{"domain":[30.282,119.475],"nice":false,"zero":false},"axis":null}}},
{"data":{"name":"aigrid"},"mark":{"type":"line","color":"#444444","strokeWidth":1,"strokeDash":[1,2]},
 "encoding":{"detail":{"field":"a"},
 "y":{"field":"a","type":"quantitative","scale":{"domain":[-1.2133,2.7867],"nice":false,"zero":false},"axis":null}}},
{"data":{"name":"up"},"mark":{"type":"line","color":"#8b1a1a","strokeWidth":1},
 "encoding":{"y":{"field":"v","type":"quantitative","scale":{"domain":[30.282,119.475],"nice":false,"zero":false},"axis":null}}},
{"data":{"name":"mid"},"mark":{"type":"line","color":"#ff0000","strokeWidth":1},
 "encoding":{"y":{"field":"v","type":"quantitative","scale":{"domain":[30.282,119.475],"nice":false,"zero":false},"axis":null}}},
{"data":{"name":"lo"},"mark":{"type":"line","color":"#ff0000","strokeWidth":1},
 "encoding":{"y":{"field":"v","type":"quantitative","scale":{"domain":[30.282,119.475],"nice":false,"zero":false},"axis":null}}},
{"data":{"name":"ma"},"mark":{"type":"line","color":"#800080","strokeWidth":3.5},
 "encoding":{"y":{"field":"v","type":"quantitative","scale":{"domain":[30.282,119.475],"nice":false,"zero":false},"axis":null}}},
{"data":{"name":"cpm"},"mark":{"type":"line","color":"#ff0000","strokeWidth":1,"strokeDash":[1,2]},
 "encoding":{"y":{"field":"v","type":"quantitative","scale":{"domain":[-27,33],"nice":false,"zero":false},"axis":null}}},
{"data":{"name":"cp"},"mark":{"type":"line","color":"#0000ff","strokeWidth":2.5},
 "encoding":{"y":{"field":"v","type":"quantitative","scale":{"domain":[-27,33],"nice":false,"zero":false},"axis":null}}},
{"data":{"name":"obvm"},"mark":{"type":"line","color":"#000000","strokeWidth":1,"strokeDash":[1,2]},
 "encoding":{"y":{"field":"v","type":"quantitative","scale":{"domain":[-26,34],"nice":false,"zero":false},"axis":null}}},
{"data":{"name":"obv"},"mark":{"type":"line","color":"#ff00ff","strokeWidth":2.5},
 "encoding":{"y":{"field":"v","type":"quantitative","scale":{"domain":[-26,34],"nice":false,"zero":false},"axis":null}}},
{"data":{"name":"px"},"transform":[{"filter":"isValid(datum.a)"}],"mark":{"type":"rule","strokeWidth":1},
 "encoding":{"y":{"field":"a","type":"quantitative","scale":{"domain":[-1.2133,2.7867],"nice":false,"zero":false},"axis":null},"y2":{"datum":0},
 "color":{"condition":{"test":"datum.a < 0","value":"#ff0000"},"value":"#0000ff"}}},
{"data":{"name":"aim"},"mark":{"type":"line","color":"#000000","strokeWidth":1},
 "encoding":{"y":{"field":"v","type":"quantitative","scale":{"domain":[-1.2133,2.7867],"nice":false,"zero":false},"axis":null}}},
{"data":{"name":"rsm"},"mark":{"type":"line","color":"#ff0000","strokeWidth":1,"strokeDash":[1,2]},
 "encoding":{"y":{"field":"v","type":"quantitative","scale":{"domain":[-1.2133,2.7867],"nice":false,"zero":false},"axis":null}}},
{"data":{"name":"rs"},"mark":{"type":"line","color":"#000000","strokeWidth":2.5},
 "encoding":{"y":{"field":"v","type":"quantitative","scale":{"domain":[-1.2133,2.7867],"nice":false,"zero":false},"axis":null}}},
{"data":{"name":"px"},"mark":{"type":"rule","color":"#000000","strokeWidth":1},
 "encoding":{"y":{"field":"l","type":"quantitative","scale":{"domain":[30.282,119.475],"nice":false,"zero":false},"axis":null},"y2":{"field":"h"}}},
{"data":{"name":"px"},"mark":{"type":"tick","orient":"horizontal","size":3,"thickness":1,"color":"#000000","xOffset":1},
 "encoding":{"y":{"field":"c","type":"quantitative","scale":{"domain":[30.282,119.475],"nice":false,"zero":false},"axis":null}}},
{"data":{"name":"arr"},"mark":{"type":"text","font":"DejaVu Sans","fontSize":17,"color":"#ff0000","align":"center","baseline":"middle"},
 "encoding":{"y":{"field":"p","type":"quantitative","scale":{"domain":[30.282,119.475],"nice":false,"zero":false},"axis":null},"text":{"field":"s"}}},
{"data":{"name":"barr"},"mark":{"type":"text","font":"DejaVu Sans","fontSize":12,"color":"#ff0000","align":"center","baseline":"middle"},
 "encoding":{"y":{"field":"p","type":"quantitative","scale":{"domain":[30.282,119.475],"nice":false,"zero":false},"axis":null},"text":{"field":"s"}}},
{"data":{"name":"b8"},"mark":{"type":"text","font":"Liberation Sans","fontSize":15,"fontWeight":"bold","color":"#222222","stroke":"#000000","strokeWidth":4,"align":"center","baseline":"middle"},
 "encoding":{"y":{"field":"p","type":"quantitative","scale":{"domain":[30.282,119.475],"nice":false,"zero":false},"axis":null},"text":{"field":"s"}}},
{"data":{"name":"big"},"mark":{"type":"text","font":"Liberation Sans","fontSize":20,"fontWeight":"bold","color":"#000000","align":"left","baseline":"middle"},
 "encoding":{"y":{"field":"p","type":"quantitative","scale":{"domain":[30.282,119.475],"nice":false,"zero":false},"axis":null},"text":{"field":"s"}}},
{"data":{"name":"lbl"},"mark":{"type":"text","font":"Liberation Sans","fontSize":12,"fontWeight":"bold","color":"#000000","align":"left","baseline":"middle"},
 "encoding":{"y":{"field":"p","type":"quantitative","scale":{"domain":[30.282,119.475],"nice":false,"zero":false},"axis":null},"text":{"field":"s"}}},
{"data":{"name":"lbl2"},"mark":{"type":"text","font":"Liberation Sans","fontSize":11.5,"fontWeight":"bold","color":"#000000","align":"left","baseline":"middle"},
 "encoding":{"y":{"field":"p","type":"quantitative","scale":{"domain":[30.282,119.475],"nice":false,"zero":false},"axis":null},"text":{"field":"s"}}},
{"data":{"name":"mon"},"mark":{"type":"text","font":"Liberation Sans","fontSize":12,"fontWeight":"bold","color":"#000000","align":"center","baseline":"middle"},
 "encoding":{"y":{"datum":47.25,"type":"quantitative","scale":{"domain":[30.282,119.475],"nice":false,"zero":false},"axis":null},"text":{"field":"s"}}},
{"data":{"name":"box"},"mark":{"type":"rect","fill":"#ffffff","stroke":"#000000","strokeWidth":1},
 "encoding":{"x2":{"field":"t2"},"y":{"field":"p","type":"quantitative","scale":{"domain":[30.282,119.475],"nice":false,"zero":false},"axis":null},"y2":{"field":"p2"}}},
{"data":{"name":"nc"},"mark":{"type":"text","font":"Liberation Sans","fontSize":16,"color":"#000000","align":"center","baseline":"middle"},
 "encoding":{"y":{"field":"p","type":"quantitative","scale":{"domain":[30.282,119.475],"nice":false,"zero":false},"axis":null},"text":{"field":"s"}}}
],
"resolve":{"scale":{"y":"independent"}}
}
